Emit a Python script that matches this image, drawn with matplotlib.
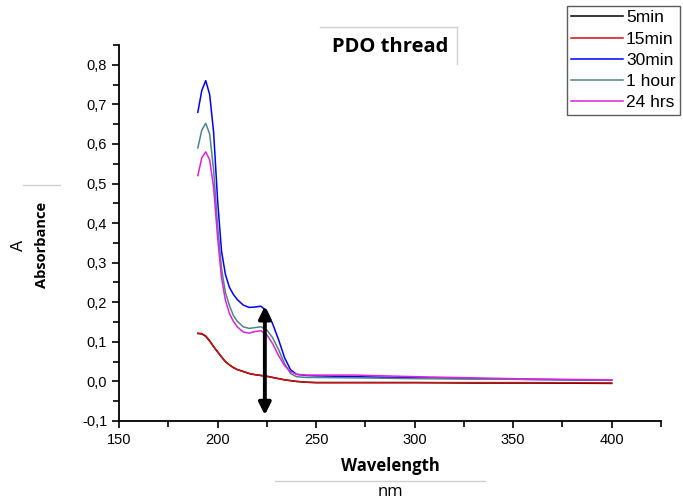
import numpy as np
import matplotlib
matplotlib.use("Agg")
import matplotlib.pyplot as plt
from matplotlib.lines import Line2D
from matplotlib.ticker import MultipleLocator, FuncFormatter

# %% DATA
wl = [190, 192, 194, 196, 198, 200, 202, 204, 206, 208, 210, 213, 216, 219,
      222, 225, 228, 231, 234, 237, 240, 245, 250, 270, 300, 330, 360, 400]

a_5min = [0.121, 0.120, 0.114, 0.102, 0.088, 0.075, 0.062, 0.050, 0.042, 0.035,
          0.030, 0.025, 0.020, 0.017, 0.015, 0.013, 0.010, 0.007, 0.004, 0.002,
          0.000, -0.002, -0.003, -0.003, -0.003, -0.004, -0.004, -0.005]
a_15min = [0.122, 0.121, 0.115, 0.103, 0.088, 0.075, 0.062, 0.050, 0.042, 0.035,
           0.030, 0.025, 0.020, 0.017, 0.015, 0.013, 0.010, 0.007, 0.004, 0.002,
           0.000, -0.002, -0.003, -0.003, -0.003, -0.003, -0.003, -0.004]
a_30min = [0.680, 0.735, 0.760, 0.725, 0.630, 0.460, 0.330, 0.270, 0.238, 0.220,
           0.207, 0.193, 0.187, 0.188, 0.190, 0.178, 0.145, 0.105, 0.060, 0.030,
           0.018, 0.015, 0.014, 0.012, 0.009, 0.007, 0.005, 0.003]
a_1hour = [0.590, 0.635, 0.652, 0.625, 0.535, 0.395, 0.285, 0.225, 0.192, 0.167,
           0.152, 0.138, 0.134, 0.136, 0.138, 0.130, 0.110, 0.080, 0.045, 0.020,
           0.012, 0.010, 0.010, 0.009, 0.007, 0.006, 0.005, 0.003]
a_24hrs = [0.520, 0.565, 0.580, 0.560, 0.490, 0.365, 0.262, 0.205, 0.172, 0.152,
           0.138, 0.125, 0.122, 0.126, 0.128, 0.118, 0.095, 0.065, 0.040, 0.025,
           0.018, 0.016, 0.016, 0.016, 0.012, 0.009, 0.006, 0.004]

labels = ['5min', '15min', '30min', '1 hour', '24 hrs']
colors = ['black', '#d01010', '#0000ff', '#4f8585', '#dd22dd']
series = [a_5min, a_15min, a_30min, a_1hour, a_24hrs]

arrow_wl = 224
arrow_lo, arrow_hi = -0.085, 0.19

# %% FIGURE
fig = plt.figure(figsize=(6.83, 5.03), dpi=100)
ax = fig.add_axes([119/683, 1-421/503, (661-119)/683, (421-45)/503])

for y, c, lab in zip(series, colors, labels):
    ax.plot(wl, y, color=c, lw=1.1, label=lab)

ax.annotate('', xy=(arrow_wl, arrow_hi), xytext=(arrow_wl, arrow_lo),
            arrowprops=dict(arrowstyle='<|-|>', color='black', lw=2.8,
                            mutation_scale=18, shrinkA=0, shrinkB=0))

ax.set_xlim(150, 425)
ax.set_ylim(-0.1, 0.85)
ax.xaxis.set_major_locator(MultipleLocator(50))
ax.xaxis.set_minor_locator(MultipleLocator(25))
ax.yaxis.set_major_locator(MultipleLocator(0.1))
ax.yaxis.set_minor_locator(MultipleLocator(0.05))
ax.yaxis.set_major_formatter(FuncFormatter(lambda v, p: f'{v:.1f}'.replace('.', ',')))
ax.set_xticks([150, 200, 250, 300, 350, 400])
for s in ['top', 'right']:
    ax.spines[s].set_visible(False)
for s in ['left', 'bottom']:
    ax.spines[s].set_linewidth(1.3)
ax.tick_params(which='both', direction='out', width=1.2, labelsize=10.5,
               labelfontfamily='Liberation Sans')
ax.tick_params(which='major', length=5)
ax.tick_params(which='minor', length=4)

# legend, running off the right edge like the original
leg = ax.legend(loc='upper left', bbox_to_anchor=(567/683, 1-6/503),
                bbox_transform=fig.transFigure, frameon=True, fancybox=False,
                handlelength=3.0, handletextpad=0.15, labelspacing=0.35,
                borderpad=0.25, borderaxespad=0,
                prop={'family': 'Liberation Sans', 'size': 12.5})
leg.get_frame().set_edgecolor('#333333')
leg.get_frame().set_linewidth(1.0)

# title and axis labels (text boxes)
gray = '#d0d0d0'
fig.text(390/683, 1-47/503, 'PDO thread', ha='center', va='center',
         fontsize=14.5, fontweight='bold', family='Open Sans')
fig.add_artist(Line2D([320/683, 457/683], [1-27/503, 1-27/503], color=gray, lw=1))
fig.add_artist(Line2D([457/683, 457/683], [1-27/503, 1-64/503], color=gray, lw=1))

fig.text(18/683, 1-245/503, 'A', rotation=90, ha='center', va='center',
         fontsize=12, family='Liberation Sans')
fig.text(42/683, 1-245/503, 'Absorbance', rotation=90, ha='center', va='center',
         fontsize=10.5, fontweight='bold', family='Open Sans')
fig.add_artist(Line2D([23/683, 60/683], [1-185/503, 1-185/503], color=gray, lw=1))

fig.text(390/683, 1-466/503, 'Wavelength', ha='center', va='center',
         fontsize=12, fontweight='bold', family='Open Sans')
fig.add_artist(Line2D([275/683, 485/683], [1-481/503, 1-481/503], color=gray, lw=1))
fig.text(390/683, 1-492/503, 'nm', ha='center', va='center',
         fontsize=12, family='Open Sans')

fig.savefig('out.png', dpi=100)
